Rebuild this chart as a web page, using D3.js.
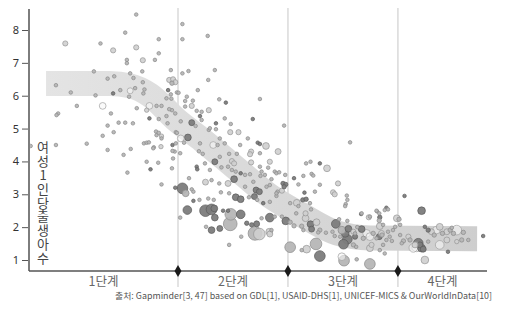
<!DOCTYPE html>
<html>
<head>
<meta charset="utf-8">
<script src="https://cdn.jsdelivr.net/npm/d3@7"></script>
<style>
  html, body { margin: 0; padding: 0; background: #fff; }
  svg { display: block; }
</style>
</head>
<body>
<svg id="chart" width="515" height="328"></svg>
<script>
// ---- data -----------------------------------------------------------
// income axis is log2 of daily income in dollars ($2 = 1, $8 = 3, $32 = 5)
const incomeDomain = [-1.71, 6.62];
const stageBounds = [1, 3, 5];
const stageNames = ["1단계", "2단계", "3단계", "4단계"];
const yTicks = [1, 2, 3, 4, 5, 6, 7, 8];
const yLabel = "여성1인당출생아수";
const sourceText = "출처: Gapminder[3, 47] based on GDL[1], USAID-DHS[1], UNICEF-MICS & OurWorldInData[10]";

// trend band: babies per woman along income
const bandIncome    = [-1.40, -0.24, 0.13, 0.49, 0.98, 1.45, 2.13, 2.67, 3.22, 3.89, 4.49, 6.44];
const bandFertility = [ 6.37,  6.37, 6.30, 6.02, 5.25, 4.64, 3.69, 2.95, 2.40, 1.82, 1.67, 1.65];

// countries: [log2 income, babies per woman, population (millions)]
const darkGroup = [
  [-0.18,6.07,1],[0.82,6.17,1],[0.48,5.31,1],[0.90,4.50,1],[0.50,3.76,1],[0.95,3.20,1],
  [1.08,3.18,100],[1.87,5.79,1],[1.25,5.18,16],[1.40,5.38,1],[1.69,5.16,1],[2.36,5.29,1],
  [1.18,4.73,25],[2.45,4.57,1],[2.49,4.53,1],[1.67,3.99,16],[1.34,3.84,1],[1.35,3.76,1],
  [2.14,3.64,1],[2.02,3.46,25],[2.42,3.13,16],[2.48,3.08,16],[2.39,2.93,16],[1.28,2.80,1],
  [2.05,2.91,25],[2.14,2.85,25],[2.55,2.73,1],[1.17,2.52,55],[1.50,2.50,125],[1.61,2.54,100],
  [1.66,2.57,25],[1.67,2.29,25],[1.82,2.50,1],[1.91,2.50,1],[2.14,2.39,55],[1.61,1.91,25],
  [1.76,1.96,16],[2.25,2.12,4],[2.34,2.07,4],[2.43,2.10,16],[2.67,2.29,55],[3.58,3.94,1],
  [3.11,3.49,1],[2.91,3.33,4],[2.96,3.30,4],[2.93,3.23,4],[3.30,3.05,1],[3.27,2.83,4],
  [3.33,2.85,4],[2.96,2.19,38],[3.41,2.09,25],[3.43,1.94,16],[3.87,2.10,55],[4.10,1.95,25],
  [4.08,1.63,75],[4.01,1.48,75],[4.34,1.94,25],[3.58,1.12,100],[4.33,2.40,1],[4.67,2.30,4],
  [4.79,2.59,1],[5.12,2.95,1],[5.43,2.50,38],[4.04,1.81,38],[4.22,1.71,9],[4.66,1.71,16],
  [5.37,1.51,75],[5.43,1.36,38],[5.49,2.01,1],[5.55,1.91,4],[5.91,1.25,1],[6.55,1.73,1],
  [5.40,1.46,16],[5.46,1.33,16]
];
const midGroup = [
  [0.24,8.47,1],[0.04,7.92,1],[-0.41,7.59,1],[0.65,7.72,1],[0.65,7.29,1],[0.07,7.09,1],
  [0.07,6.99,1],[0.58,7.09,1],[0.87,6.78,1],[-0.53,6.74,1],[0.13,6.68,1],[0.35,6.74,1],
  [-0.28,6.52,1],[-0.16,6.59,1],[0.19,6.54,1],[0.89,6.38,4],[0.36,6.41,1],[-1.22,6.32,1],
  [-0.95,6.10,1],[-0.50,6.01,1],[-0.05,6.17,1],[0.22,6.23,1],[0.39,6.19,1],[0.37,6.07,1],
  [0.11,5.97,1],[0.87,6.04,1],[0.98,6.10,1],[0.79,5.92,1],[-0.84,5.69,1],[0.25,5.62,1],
  [0.61,5.69,1],[0.70,5.69,1],[-1.18,5.46,1],[-1.21,5.41,1],[-0.22,5.46,1],[0.65,5.29,1],
  [0.79,5.38,1],[0.89,5.56,1],[0.95,5.46,1],[-0.08,5.18,1],[0.04,5.18,1],[0.18,5.16,1],
  [-0.28,5.09,1],[-0.17,4.89,1],[-0.37,4.78,1],[0.61,4.80,1],[0.96,4.89,1],[-1.68,4.47,1],
  [-1.22,4.50,1],[-0.66,4.54,1],[-0.28,4.35,1],[0.01,4.20,1],[0.14,4.38,1],[0.38,4.55,1],
  [0.43,4.57,1],[0.47,4.58,1],[0.56,4.43,1],[0.60,4.91,1],[0.70,4.70,1],[0.94,4.30,1],
  [0.91,4.09,1],[0.43,3.99,1],[0.64,3.96,1],[0.89,3.79,1],[0.08,3.66,1],[0.70,3.30,1],
  [1.14,3.03,25],[0.55,4.40,1],[0.65,4.87,1],
  [1.08,8.18,1],[1.54,7.82,1],[1.08,7.72,1],[1.08,6.68,1],[1.19,6.75,1],[1.67,6.78,1],
  [1.55,6.48,1],[1.36,6.17,1],[1.01,6.09,1],[1.16,5.97,1],[1.27,5.85,1],[1.13,5.84,1],
  [1.75,5.89,1],[2.49,5.90,1],[1.13,5.67,1],[1.34,5.54,1],[1.43,5.51,1],[0.88,5.91,1],
  [0.84,5.59,1],[0.81,5.16,1],[1.05,5.22,1],[1.32,5.08,1],[1.43,5.26,1],[1.56,4.96,1],
  [1.85,5.31,1],[1.96,5.14,1],[2.93,5.09,1],[1.58,5.01,1],[1.69,4.98,1],[1.76,4.70,1],
  [2.27,4.70,1],[0.98,4.87,1],[1.40,4.55,1],[0.96,4.55,1],[1.11,4.57,1],[1.72,4.50,1],
  [1.85,4.55,1],[2.13,4.50,1],[0.90,4.32,1],[1.04,4.25,1],[1.38,4.31,1],[1.45,4.23,1],
  [1.76,4.14,1],[1.93,4.23,1],[2.07,4.23,1],[2.49,4.25,1],
  [1.49,3.94,1],[1.79,3.82,1],[1.91,3.84,1],[2.49,3.84,1],[2.52,3.69,1],[2.64,3.81,1],
  [1.58,3.74,1],[1.98,3.74,1],[2.05,3.69,1],[2.22,3.59,1],[2.31,3.61,1],[2.50,3.56,1],
  [2.58,3.59,1],[2.76,3.69,1],[1.61,3.43,1],[1.75,3.33,1],[2.22,3.23,1],[2.37,3.38,1],
  [2.61,3.23,1],[2.67,3.28,1],[2.81,3.08,1],[1.20,3.49,1],[1.25,3.15,1],[1.28,3.08,1],
  [1.39,2.83,1],[1.55,2.87,1],[1.65,2.83,1],[1.78,3.06,1],[1.93,3.03,1],[2.29,2.91,1],
  [2.44,2.83,1],[2.67,2.77,1],[2.79,2.95,1],[1.96,2.39,125],[1.95,2.10,190],[2.40,1.81,190],
  [2.52,2.27,1],[2.15,1.71,1],[1.51,2.01,1],[1.93,1.46,1],[1.04,2.29,1],
  [3.33,3.94,1],[3.41,3.99,1],[2.79,3.64,1],[2.84,3.67,1],[2.95,3.59,1],[3.43,3.62,1],
  [3.46,3.57,1],[3.28,3.56,1],[2.70,3.46,1],[3.19,3.30,1],[3.58,3.29,1],[2.79,3.03,1],
  [3.49,3.08,1],[4.07,2.96,1],[3.19,2.64,1],[3.04,2.73,1],[3.40,2.73,1],[3.42,2.54,1],
  [4.05,2.70,1],[4.34,2.42,1],[4.49,2.32,1],[4.62,2.48,1],[4.76,2.52,1],[4.82,2.54,1],
  [2.89,2.32,1],[3.15,2.42,1],[3.04,2.15,4],[3.11,2.04,4],[3.25,2.03,4],[3.28,1.91,1],
  [3.58,1.91,4],[3.55,1.84,1],[3.93,2.24,1],[4.08,2.19,1],[3.81,1.86,1],[3.85,1.73,1],
  [3.69,1.83,1],[3.95,1.71,1],[4.22,1.81,1],[4.26,2.00,1],[4.61,1.66,1],[4.71,1.76,4],
  [4.79,1.61,1],[4.24,1.40,1],[4.67,1.30,1],[3.51,1.49,125],[3.04,1.39,100],[3.25,1.30,1],
  [4.02,0.98,100],[4.49,0.88,100],[4.25,1.02,1],[4.76,1.20,1],[4.82,1.86,1],[2.76,2.32,1],
  [2.70,1.91,1],[4.13,4.58,1],[4.08,2.83,1],[4.04,2.64,1],[4.61,2.50,1],[4.66,2.42,1],
  [4.66,2.20,4],[5.02,2.24,4],[3.98,1.91,38],[4.19,1.46,4],[4.37,1.66,4],[4.55,1.81,4],
  [4.73,1.46,1],[4.85,1.71,1],[4.91,1.91,1],
  [5.04,1.76,1],[5.22,1.61,4],[5.07,1.51,1],[5.55,1.56,1],[5.95,1.91,4],[6.01,1.81,4],
  [6.16,1.61,4],[6.28,1.61,1],[4.95,2.01,1],[5.98,1.98,1],[6.19,1.84,4],[5.66,1.76,4],
  [5.81,1.81,4],[5.10,1.58,4],[4.89,1.58,1],[5.04,2.07,1],[4.73,2.07,1]
];
const lightGroup = [
  [-1.05,7.59,9],[-0.18,7.38,9],[0.24,7.47,9],[0.36,7.08,9],[0.84,6.48,9],[0.91,6.50,9],
  [0.95,6.41,9],[0.43,5.56,4],[0.70,4.77,4],[0.69,4.45,4],[1.25,5.69,9],[1.56,5.56,9],
  [1.95,4.89,9],[2.10,4.89,9],[2.60,4.47,25],[2.82,4.30,16],[2.33,4.30,9],[2.31,4.22,9],
  [1.98,4.01,9],[2.02,3.94,9],[2.33,3.97,9],[2.67,3.99,9],[1.50,3.37,16],[1.91,3.33,16],
  [2.48,1.79,125],[2.66,1.86,25],[2.67,1.79,16],[3.71,3.79,25],[3.91,3.33,9],[2.89,3.11,9],
  [3.82,3.06,9],[3.85,3.00,9],[3.16,2.74,25],[3.32,2.42,9],[3.32,2.27,25],[3.52,2.15,25],
  [4.67,2.03,25],[4.49,1.36,25],[3.34,1.33,38],[4.47,2.30,9],[4.98,2.27,25],[4.19,1.86,9],
  [4.52,1.46,9],[4.70,1.81,16],[5.19,1.71,9],[5.31,1.46,16],[5.61,1.86,16],[5.76,2.01,25],
  [5.89,1.61,16],[5.49,1.00,38],[5.89,1.86,16],[6.07,1.56,4]
];
const openGroup = [
  [0.13,6.15,16],[-0.37,5.69,25],[0.48,5.69,25],[1.05,4.70,25],[1.64,4.50,25],
  [4.43,1.81,38],[4.49,1.71,38],[3.98,1.10,38],[5.34,1.40,75],[5.70,1.91,38],
  [5.76,1.46,55],[6.07,1.91,75],[5.28,1.37,55]
];

// ---- layout ---------------------------------------------------------
const left = 29, right = 487, axisY = 271;

const x = d3.scaleLinear().domain(incomeDomain).range([left, right]);
const y = d3.scaleLinear().domain([1, 8]).range([260, 30]);
const r = d3.scaleSqrt().domain([0, 200]).range([1.4, 7.0]);

const svg = d3.select("#chart");
const defs = svg.append("defs");

const grad = defs.append("linearGradient")
  .attr("id", "bandFill")
  .attr("gradientUnits", "userSpaceOnUse")
  .attr("x1", x(bandIncome[0])).attr("x2", x(bandIncome[bandIncome.length - 1]))
  .attr("y1", 0).attr("y2", 0);
grad.append("stop").attr("offset", 0).attr("stop-color", "#e4e4e4");
grad.append("stop").attr("offset", 1).attr("stop-color", "#cecece");

// stage dividers
svg.append("g").selectAll("line")
  .data(stageBounds)
  .join("line")
  .attr("x1", d => x(d)).attr("x2", d => x(d))
  .attr("y1", 8).attr("y2", 287)
  .attr("stroke", "#d0d0d0")
  .attr("stroke-width", 1.2);

// trend band
const band = d3.line()
  .x(d => x(d[0]))
  .y(d => y(d[1]))
  .curve(d3.curveMonotoneX);
svg.append("path")
  .datum(bandIncome.map((v, i) => [v, bandFertility[i]]))
  .attr("d", band)
  .attr("fill", "none")
  .attr("stroke", "url(#bandFill)")
  .attr("stroke-width", 25)
  .attr("stroke-linecap", "butt");

// country bubbles
const groups = [
  { data: darkGroup,  fill: "#7c7c7c", stroke: "#5a5a5a", op: 0.95 },
  { data: midGroup,   fill: "#b6b6b6", stroke: "#8a8a8a", op: 0.95 },
  { data: lightGroup, fill: "#cfcfcf", stroke: "#959595", op: 0.9 },
  { data: openGroup,  fill: "#f6f6f6", stroke: "#a0a0a0", op: 0.6 }
];
const bubbles = [];
groups.forEach(g => g.data.forEach(d => bubbles.push({ inc: d[0], fert: d[1], pop: d[2], g })));
bubbles.sort((a, b) => b.pop - a.pop);

svg.append("g").selectAll("circle")
  .data(bubbles)
  .join("circle")
  .attr("cx", d => x(d.inc))
  .attr("cy", d => y(d.fert))
  .attr("r", d => r(d.pop))
  .attr("fill", d => d.g.fill)
  .attr("fill-opacity", d => d.g.op)
  .attr("stroke", d => d.g.stroke)
  .attr("stroke-width", 0.7);

// y axis
svg.append("line")
  .attr("x1", left).attr("x2", left)
  .attr("y1", 9).attr("y2", axisY)
  .attr("stroke", "#7d7d7d").attr("stroke-width", 2);

const yAxis = svg.append("g")
  .attr("transform", `translate(${left - 1},0)`)
  .call(d3.axisLeft(y).tickValues(yTicks).tickFormat(d3.format("d"))
    .tickSize(6).tickPadding(3).tickSizeOuter(0));
yAxis.select(".domain").remove();
yAxis.selectAll(".tick line").attr("stroke", "#555");
yAxis.selectAll(".tick text")
  .attr("fill", "#333")
  .style("font-family", "'Noto Sans', sans-serif")
  .style("font-size", "11px");

// x axis baseline with stage markers
svg.append("line")
  .attr("x1", left).attr("x2", right)
  .attr("y1", axisY).attr("y2", axisY)
  .attr("stroke", "#555").attr("stroke-width", 1.5);

svg.append("g").selectAll("path")
  .data(stageBounds)
  .join("path")
  .attr("transform", d => `translate(${x(d)},${axisY})`)
  .attr("d", d3.symbol().type(d3.symbolDiamond).size(42))
  .attr("fill", "#1a1a1a");

// stage names, centred in each stage
const edges = [incomeDomain[0], ...stageBounds, incomeDomain[1]];
svg.append("g").selectAll("text")
  .data(stageNames)
  .join("text")
  .attr("x", (d, i) => (x(edges[i]) + x(edges[i + 1])) / 2)
  .attr("y", 286)
  .attr("text-anchor", "middle")
  .attr("fill", "#666")
  .style("font-family", "'Noto Sans CJK KR', sans-serif")
  .style("font-size", "12.5px")
  .text(d => d);

// vertical y label, upright glyphs stacked top to bottom
svg.append("text")
  .attr("x", 43)
  .attr("y", 141)
  .attr("fill", "#444")
  .style("writing-mode", "vertical-rl")
  .style("text-orientation", "upright")
  .style("letter-spacing", "0.8px")
  .style("font-family", "'Noto Sans CJK KR', sans-serif")
  .style("font-size", "13px")
  .text(yLabel);

// source note
svg.append("text")
  .attr("x", 492)
  .attr("y", 299)
  .attr("text-anchor", "end")
  .attr("fill", "#555")
  .attr("textLength", 377)
  .attr("lengthAdjust", "spacingAndGlyphs")
  .style("font-family", "'Liberation Sans Narrow', 'Noto Sans CJK KR', sans-serif")
  .style("font-size", "8.5px")
  .text(sourceText);
</script>
</body>
</html>
